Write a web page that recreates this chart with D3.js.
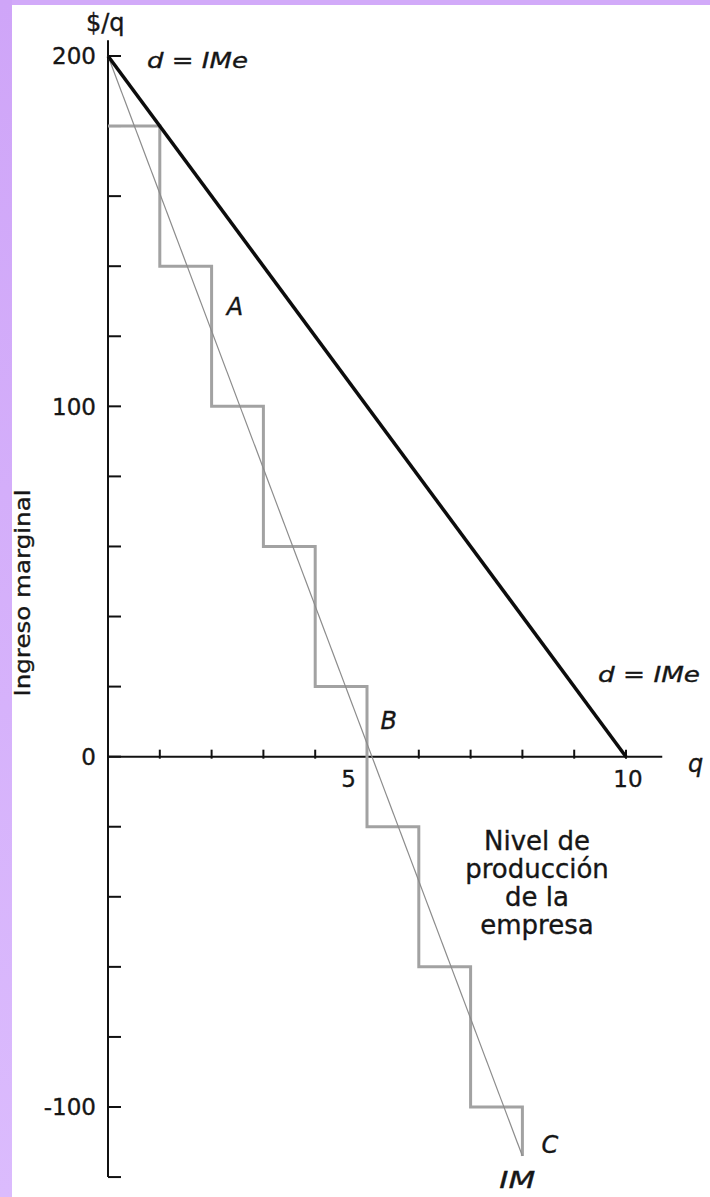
<html>

<head>
    <style>
        body {
            margin: 0;
            background: #fff;
        }

        text {
            font-family: "DejaVu Sans", sans-serif;
            fill: #161616;
            stroke: #161616;
            stroke-width: 0.35px;
        }

        .it {
            font-style: italic;
        }
    </style>
    <script src="https://d3js.org/d3.v7.min.js"></script>
</head>

<body>

    <svg id="chart"></svg>

    <script>
        // marginal revenue of each unit sold (one step per unit)
        var stepValues = [180, 140, 100, 60, 20, -20, -60, -100];
        var stepEnd = -114;

        // demand = average revenue, straight line
        var demand = [[0, 200], [10, 0]];

        // continuous marginal revenue line
        var mrLine = [[0, 200], [8, -114]];

        var xTicks = [1, 2, 3, 4, 5, 6, 7, 8, 9, 10];
        var xTickLabels = ["5", "10"];
        var yTicks = [-120, -100, -80, -60, -40, -20, 0, 20, 40, 60, 80, 100, 120, 140, 160, 180, 200];
        var yTickLabels = [200, 100, 0, -100];

        var W = 710, H = 1197;

        var svg = d3.select("svg#chart")
            .attr('width', W)
            .attr('height', H);

        // lavender frame on the left and top
        var grad = svg.append('defs').append('linearGradient')
            .attr('id', 'lav')
            .attr('x1', 0).attr('y1', 0).attr('x2', 0).attr('y2', 1);
        grad.append('stop').attr('offset', 0).attr('stop-color', '#cfa5f8');
        grad.append('stop').attr('offset', 1).attr('stop-color', '#dbbbfd');

        svg.append('rect').attr('width', W).attr('height', H).attr('fill', '#fff');
        svg.append('rect').attr('width', W).attr('height', 5).attr('fill', '#d2aaf9');
        svg.append('rect').attr('width', 12).attr('height', H).attr('fill', 'url(#lav)');

        var x = d3.scaleLinear()
            .domain([0, 10])
            .range([108, 626]);

        var y = d3.scaleLinear()
            .domain([-100, 200])
            .range([1107, 56]);

        var g = svg.append('g');

        // axes
        g.append('line')
            .attr('x1', x(0)).attr('x2', x(0))
            .attr('y1', y(204.5)).attr('y2', y(-120))
            .attr('stroke', '#111').attr('stroke-width', 2);

        g.append('line')
            .attr('x1', x(0)).attr('x2', x(10.7))
            .attr('y1', y(0)).attr('y2', y(0))
            .attr('stroke', '#111').attr('stroke-width', 2);

        g.selectAll('line.yt')
            .data(yTicks)
            .enter().append('line')
            .attr('class', 'yt')
            .attr('x1', x(0)).attr('x2', x(0) + 13)
            .attr('y1', function (d) { return y(d); })
            .attr('y2', function (d) { return y(d); })
            .attr('stroke', '#111').attr('stroke-width', 2);

        g.selectAll('line.xt')
            .data(xTicks)
            .enter().append('line')
            .attr('class', 'xt')
            .attr('x1', function (d) { return x(d); })
            .attr('x2', function (d) { return x(d); })
            .attr('y1', y(0) - 7).attr('y2', y(0) + 2)
            .attr('stroke', '#111').attr('stroke-width', 2);

        g.selectAll('text.yl')
            .data(yTickLabels)
            .enter().append('text')
            .attr('class', 'yl')
            .attr('x', x(0) - 12)
            .attr('y', function (d) { return y(d); })
            .attr('dy', '0.36em')
            .attr('text-anchor', 'end')
            .attr('font-size', 23)
            .text(function (d) { return d; });

        g.selectAll('text.xl')
            .data(xTickLabels)
            .enter().append('text')
            .attr('class', 'xl')
            .attr('x', function (d) { return d === "5" ? x(+d) - 11 : x(+d) + 2; })
            .attr('y', y(0) + 30)
            .attr('text-anchor', function (d) { return d === "5" ? 'end' : 'middle'; })
            .attr('font-size', 23)
            .text(function (d) { return d; });

        // step marginal revenue
        var stepPts = stepValues.map(function (v, i) { return [i, v]; });
        stepPts.push([stepValues.length, stepEnd]);

        var step = d3.line()
            .x(function (d) { return x(d[0]); })
            .y(function (d) { return y(d[1]); })
            .curve(d3.curveStepAfter);

        g.append('path')
            .attr('d', step(stepPts))
            .attr('fill', 'none')
            .attr('stroke', '#a2a2a2')
            .attr('stroke-width', 3);

        var line = d3.line()
            .x(function (d) { return x(d[0]); })
            .y(function (d) { return y(d[1]); });

        g.append('path')
            .attr('d', line(mrLine))
            .attr('fill', 'none')
            .attr('stroke', '#8c8c8c')
            .attr('stroke-width', 1.2);

        g.append('path')
            .attr('d', line(demand))
            .attr('fill', 'none')
            .attr('stroke', '#0c0c0c')
            .attr('stroke-width', 3.5);

        // labels
        g.append('text')
            .attr('x', 86).attr('y', 31)
            .attr('font-size', 24)
            .text('$/q');

        g.append('text')
            .attr('class', 'it')
            .attr('x', 147).attr('y', 68)
            .attr('font-size', 22)
            .attr('textLength', 101).attr('lengthAdjust', 'spacingAndGlyphs')
            .text('d = IMe');

        g.append('text')
            .attr('class', 'it')
            .attr('x', 598).attr('y', 682)
            .attr('font-size', 22)
            .attr('textLength', 102).attr('lengthAdjust', 'spacingAndGlyphs')
            .text('d = IMe');

        g.append('text')
            .attr('class', 'it')
            .attr('x', 688).attr('y', 772)
            .attr('font-size', 24)
            .text('q');

        g.append('text')
            .attr('transform', 'translate(30,593) rotate(-90)')
            .attr('text-anchor', 'middle')
            .attr('font-size', 22)
            .attr('textLength', 207).attr('lengthAdjust', 'spacingAndGlyphs')
            .text('Ingreso marginal');

        var pointLabels = g.append('g').attr('class', 'it').attr('font-size', 24);
        pointLabels.append('text').attr('x', x(2.45)).attr('y', y(126)).attr('text-anchor', 'middle').text('A');
        pointLabels.append('text').attr('x', x(5.42)).attr('y', y(8)).attr('text-anchor', 'middle').text('B');
        pointLabels.append('text').attr('x', x(8.53)).attr('y', y(-113)).attr('text-anchor', 'middle').text('C');
        pointLabels.append('text').attr('x', x(7.9)).attr('y', y(-123.2)).attr('text-anchor', 'middle')
            .attr('font-size', 23)
            .attr('textLength', 36).attr('lengthAdjust', 'spacingAndGlyphs').text('IM');

        var note = ["Nivel de", "producción", "de la", "empresa"];
        g.selectAll('text.note')
            .data(note)
            .enter().append('text')
            .attr('class', 'note')
            .attr('x', 537)
            .attr('y', function (d, i) { return 850 + i * 28; })
            .attr('text-anchor', 'middle')
            .attr('font-size', 26)
            .text(function (d) { return d; });
    </script>
</body>

</html>
